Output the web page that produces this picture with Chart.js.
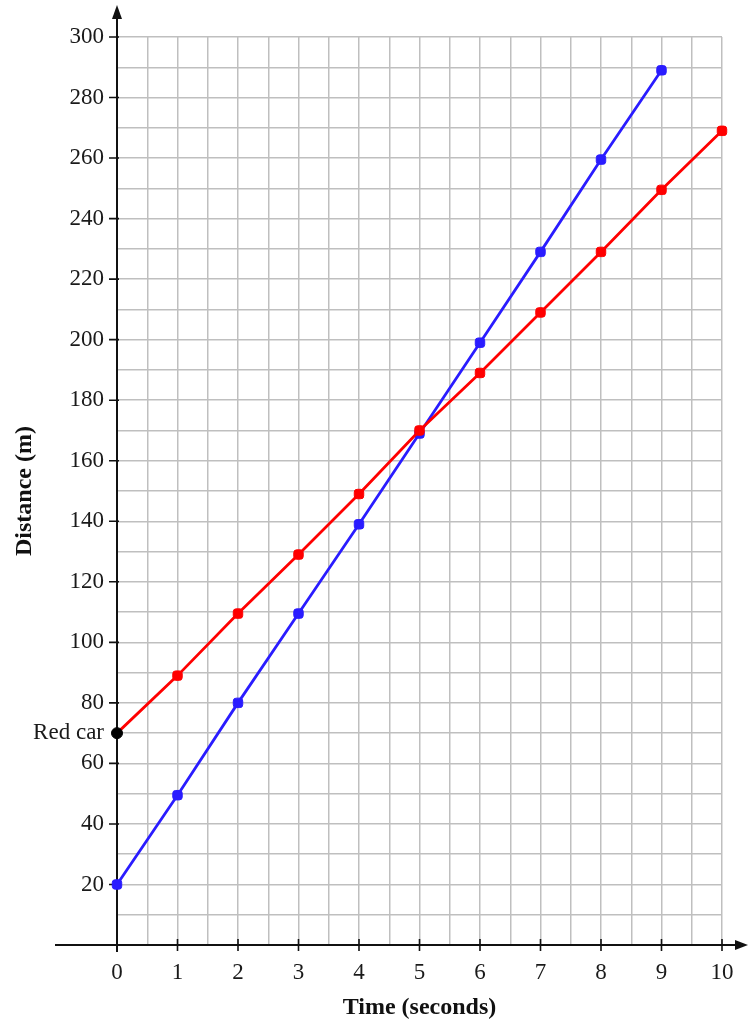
<!DOCTYPE html>
<html>
<head>
<meta charset="utf-8">
<script src="https://cdn.jsdelivr.net/npm/chart.js@4"></script>
<style>
  html, body { margin: 0; padding: 0; background: #fff; }
  #wrap { width: 748px; height: 1026px; }
</style>
</head>
<body>
<div id="wrap"><canvas id="carChart"></canvas></div>
<script>
const times = [0, 1, 2, 3, 4, 5, 6, 7, 8, 9, 10];
const redCar = [70, 89, 109.5, 129, 149, 170, 189, 209, 229, 249.5, 269];
const blueCar = [20, 49.5, 80, 109.5, 139, 169, 199, 229, 259.5, 289];
const startLabel = "Red car";
const startValue = 70;

const serif = "'Liberation Serif', 'Times New Roman', serif";

// axes with arrows + tick marks, drawn under the lines
const axesPlugin = {
  id: "axes",
  beforeDatasetsDraw(chart) {
    const { ctx, scales: { x, y } } = chart;
    const x0 = x.getPixelForValue(0);
    const y0 = y.getPixelForValue(0);
    ctx.save();
    ctx.strokeStyle = "#111";
    ctx.fillStyle = "#111";
    ctx.lineWidth = 2;

    ctx.beginPath();
    ctx.moveTo(55, y0);
    ctx.lineTo(738, y0);
    ctx.moveTo(x0, y0 + 7);
    ctx.lineTo(x0, 18);
    ctx.stroke();

    // arrow heads
    ctx.beginPath();
    ctx.moveTo(748, y0);
    ctx.lineTo(735, y0 - 5);
    ctx.lineTo(735, y0 + 5);
    ctx.closePath();
    ctx.fill();
    ctx.beginPath();
    ctx.moveTo(x0, 5);
    ctx.lineTo(x0 - 5, 19);
    ctx.lineTo(x0 + 5, 19);
    ctx.closePath();
    ctx.fill();

    ctx.lineWidth = 1.6;
    ctx.beginPath();
    for (let v = 20; v <= 300; v += 20) {
      const py = y.getPixelForValue(v);
      ctx.moveTo(x0 - 8, py);
      ctx.lineTo(x0 + 2, py);
    }
    for (let v = 1; v <= 10; v++) {
      const px = x.getPixelForValue(v);
      ctx.moveTo(px, y0 - 6);
      ctx.lineTo(px, y0 + 6);
    }
    ctx.stroke();
    ctx.restore();
  }
};

new Chart(document.getElementById("carChart"), {
  type: "line",
  data: {
    datasets: [
      {
        label: "Red car",
        data: redCar.map((d, i) => ({ x: times[i], y: d })),
        borderColor: "#ff0000",
        borderWidth: 2.8,
        pointStyle: (c) => (c.dataIndex === 0 ? "circle" : "rectRounded"),
        pointRadius: 5.5,
        pointBackgroundColor: (c) => (c.dataIndex === 0 ? "#000" : "#ff0000"),
        pointBorderColor: (c) => (c.dataIndex === 0 ? "#000" : "#ff0000"),
        pointBorderWidth: 1,
        clip: false,
        order: 0,
      },
      {
        label: "Blue car",
        data: blueCar.map((d, i) => ({ x: times[i], y: d })),
        borderColor: "#2a1cff",
        borderWidth: 2.8,
        pointStyle: "rectRounded",
        pointRadius: 5.5,
        pointBackgroundColor: "#2a1cff",
        pointBorderColor: "#2a1cff",
        pointBorderWidth: 1,
        clip: false,
        order: 1,
      },
    ],
  },
  options: {
    responsive: true,
    maintainAspectRatio: false,
    animation: false,
    layout: { padding: { top: 37, right: 26, left: 0, bottom: 0 } },
    plugins: {
      legend: { display: false },
      tooltip: { enabled: false },
    },
    scales: {
      x: {
        type: "linear",
        min: 0,
        max: 10,
        afterFit: (s) => { s.height = 81; },
        border: { display: false },
        grid: { color: "#bfbfbf", lineWidth: 1.5, drawTicks: false },
        ticks: {
          stepSize: 0.5,
          autoSkip: false,
          maxRotation: 0,
          padding: 14,
          color: "#1a1a1a",
          font: { family: serif, size: 23 },
          callback: (v) => (Number.isInteger(v) ? v : ""),
        },
        title: {
          display: true,
          text: "Time (seconds)",
          color: "#111",
          font: { family: serif, size: 24, weight: "bold" },
          padding: { top: 0, bottom: 4 },
        },
      },
      y: {
        type: "linear",
        min: 0,
        max: 300,
        afterFit: (s) => { s.width = 117; },
        border: { display: false },
        grid: { color: "#bfbfbf", lineWidth: 1.5, drawTicks: false },
        ticks: {
          stepSize: 10,
          autoSkip: false,
          padding: 13,
          color: "#1a1a1a",
          font: { family: serif, size: 23 },
          callback: (v) => {
            if (v === startValue) return startLabel;
            return v >= 20 && v % 20 === 0 ? v : "";
          },
        },
        title: {
          display: true,
          text: "Distance (m)",
          color: "#111",
          font: { family: serif, size: 24, weight: "bold" },
          padding: { top: 10, bottom: 0 },
        },
      },
    },
  },
  plugins: [axesPlugin],
});
</script>
</body>
</html>
